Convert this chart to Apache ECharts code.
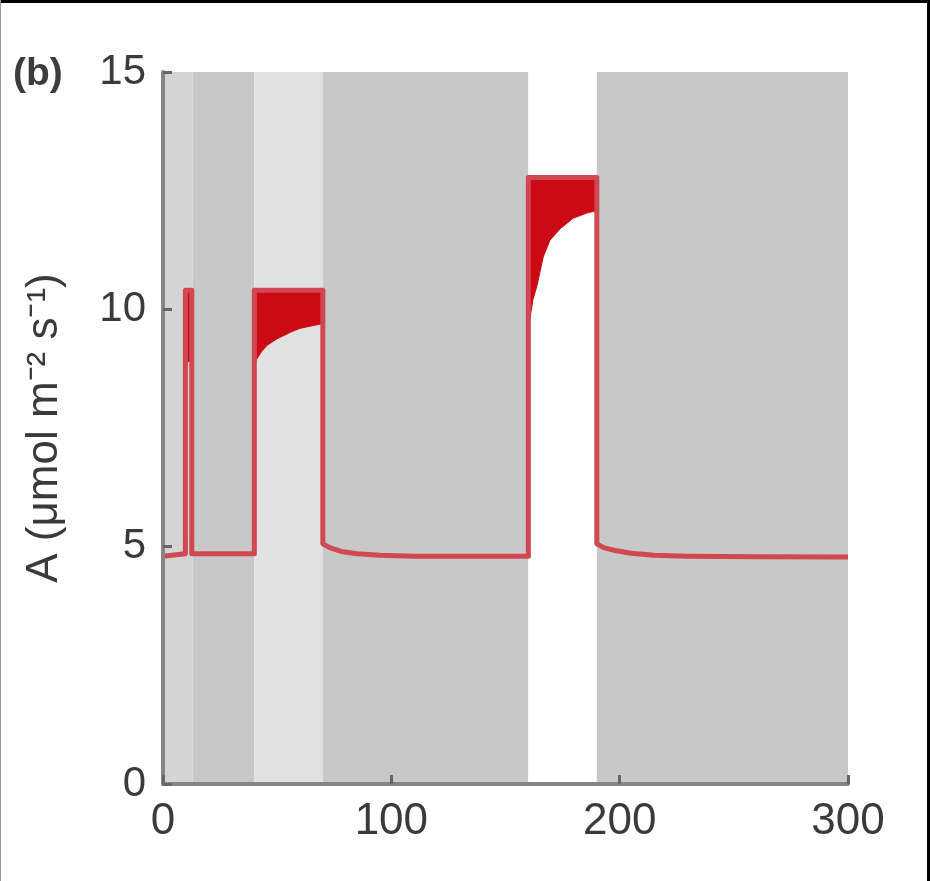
<!DOCTYPE html>
<html>
<head>
<meta charset="utf-8">
<title>A response</title>
<script src="https://cdn.jsdelivr.net/npm/echarts@6/dist/echarts.min.js"></script>
<style>
	html, body { margin: 0; padding: 0; background: #fff; }
	#main { width: 930px; height: 881px; }
</style>
</head>
<body>
<div id="main"></div>
<script>
// 光照分段（背景）
var bandStart = [0, 13, 40, 70, 160, 190];
var bandEnd = [13, 40, 70, 160, 190, 300];
var bandColor = ['#d4d4d4', '#c8c8c8', '#e1e1e1', '#c8c8c8', '#ffffff', '#c8c8c8'];

// 红色曲线（A 随时间）
var traceX = [0, 9.8, 9.8, 12.6, 12.6, 40, 40, 70, 70, 73, 78, 85, 95, 110, 130, 160, 160, 190, 190, 193, 198, 205, 215, 230, 260, 300];
var traceY = [4.8, 4.85, 10.4, 10.4, 4.85, 4.85, 10.4, 10.4, 5.06, 4.98, 4.9, 4.85, 4.82, 4.8, 4.8, 4.8, 12.78, 12.78, 5.06, 4.98, 4.92, 4.86, 4.82, 4.8, 4.79, 4.78];

// 波动光下的振荡范围（上下包络）
var spikeX = [9.8, 12.6];
var spikeLow = [8.9, 8.9];
var spikeTop = 10.4;
var win1X = [40, 41, 43, 45.5, 50, 53, 56, 60, 65, 70];
var win1Low = [8.8, 8.95, 9.1, 9.24, 9.38, 9.45, 9.52, 9.6, 9.65, 9.7];
var win1Top = 10.4;
var win2X = [160, 161, 162, 163.8, 166.5, 169.5, 174, 179.6, 185.7, 190];
var win2Low = [9.6, 9.9, 10.2, 10.5, 11.1, 11.46, 11.7, 11.92, 12.03, 12.08];
var win2Top = 12.78;

var xTicks = [0, 100, 200, 300];
var yTicks = [0, 5, 10, 15];

(function() {
	var myChart = echarts.init(document.getElementById('main'));
	var font = "'Liberation Sans', Arial, sans-serif";

	var windows = [
		{ x: spikeX, low: spikeLow, top: spikeTop },
		{ x: win1X, low: win1Low, top: win1Top },
		{ x: win2X, low: win2Low, top: win2Top }
	];

	var traceData = traceX.map(function(x, i) { return [x, traceY[i]]; });

	var areas = bandStart.map(function(s, i) {
		return [{ xAxis: s, itemStyle: { color: bandColor[i] } }, { xAxis: bandEnd[i] }];
	});

	var option = {
		animation: false,
		grid: {
			left: 163,
			top: 72,
			right: 82,
			bottom: 97
		},
		xAxis: {
			type: 'value',
			min: xTicks[0],
			max: xTicks[xTicks.length - 1],
			interval: 100,
			z: 10,
			axisLine: { lineStyle: { color: '#858585', width: 4 } },
			axisTick: { inside: true, length: 9, lineStyle: { color: '#666', width: 3 } },
			axisLabel: { fontSize: 44, color: '#3a3a3a', fontFamily: font, margin: 16 },
			splitLine: { show: false }
		},
		yAxis: {
			type: 'value',
			min: yTicks[0],
			max: yTicks[yTicks.length - 1],
			interval: 5,
			z: 10,
			name: 'A (μmol m⁻² s⁻¹)',
			nameLocation: 'middle',
			nameRotate: 90,
			nameGap: 96,
			nameTextStyle: { fontSize: 44, color: '#3a3a3a', fontFamily: font },
			axisLine: { lineStyle: { color: '#858585', width: 4 } },
			axisTick: { inside: true, length: 9, lineStyle: { color: '#666', width: 3 } },
			axisLabel: { fontSize: 42, color: '#3a3a3a', fontFamily: font, margin: 17 },
			splitLine: { show: false }
		},
		series: [
			{
				// 背景分段
				type: 'line',
				data: [],
				silent: true,
				markArea: { silent: true, data: areas }
			},
			{
				// 振荡填充区
				type: 'custom',
				z: 3,
				data: windows.map(function(w, i) { return [i]; }),
				renderItem: function(params, api) {
					var w = windows[api.value(0)];
					var pts = [];
					for (var i = 0; i < w.x.length; i++) pts.push(api.coord([w.x[i], w.top]));
					for (var j = w.x.length - 1; j >= 0; j--) pts.push(api.coord([w.x[j], w.low[j]]));
					return {
						type: 'polygon',
						shape: { points: pts },
						style: { fill: '#cc0a16', stroke: '#cc0a16', lineWidth: 1 }
					};
				}
			},
			{
				type: 'line',
				z: 4,
				data: traceData,
				symbol: 'none',
				lineStyle: { color: '#cf4852', width: 5, join: 'round' }
			}
		],
		graphic: [
			{ type: 'rect', shape: { x: 0, y: 0, width: 930, height: 3 }, style: { fill: '#000' } },
			{ type: 'rect', shape: { x: 927, y: 0, width: 3, height: 881 }, style: { fill: '#000' } },
			{ type: 'rect', shape: { x: 0, y: 0, width: 1, height: 881 }, style: { fill: '#999' } },
			{ type: 'text', left: 13, top: 55, style: { text: '(b)', font: 'bold 39px ' + font, fill: '#3d3d3d' } },
			{ type: 'text', x: 289, y: 198, style: { text: '?', font: 'bold 54px ' + font, fill: '#000', align: 'center', verticalAlign: 'middle' } },
			{ type: 'text', x: 553, y: 130, style: { text: '?', font: 'bold 54px ' + font, fill: '#000', align: 'center', verticalAlign: 'middle' } }
		]
	};
	myChart.setOption(option);
	window.addEventListener('resize', function() {
		myChart.resize();
	});
})();
</script>
</body>
</html>
